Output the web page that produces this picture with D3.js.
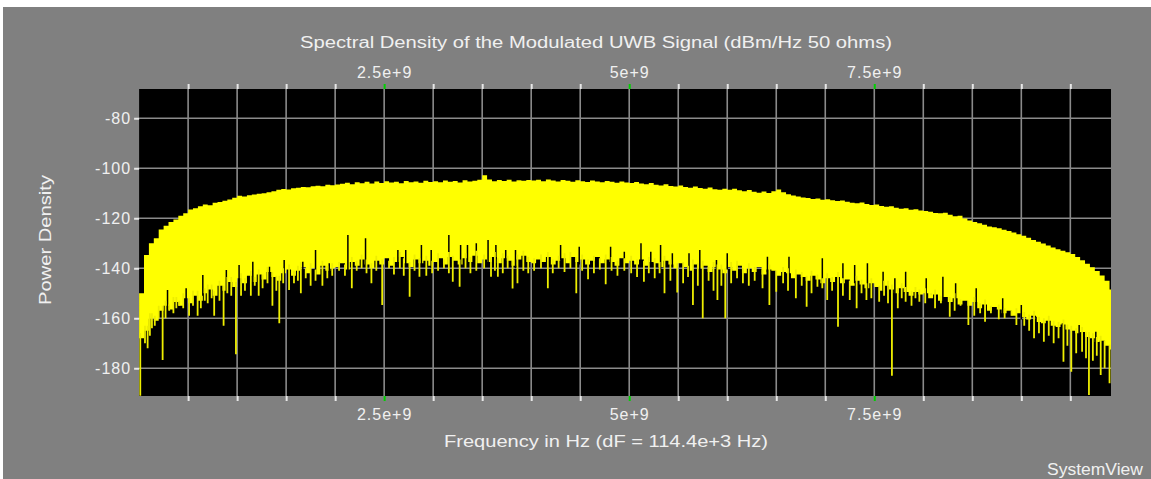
<!DOCTYPE html>
<html>
<head>
<meta charset="utf-8">
<script src="https://cdn.jsdelivr.net/npm/d3@7"></script>
<style>
  html, body { margin: 0; padding: 0; background: #ffffff; }
  svg { display: block; }
  text { font-family: "Liberation Sans", Arial, sans-serif; fill: #f0f0f0; }
</style>
</head>
<body>
<svg id="chart" width="1151" height="479"></svg>
<script>
// ---- data -------------------------------------------------------------
// Spectrum sampled in 0.05 GHz bins starting at 0 Hz (dBm/Hz).
const binHz = 0.05e9;

// upper edge of the spectrum in each bin
const peakDb = [
  -150, -134.7, -130, -128, -124.5, -123, -121.5, -120.5, -119, -118,
  -116.5, -116, -115.2, -114.5, -114.8, -113.8, -113.5, -113, -112.5, -111.8,
  -111, -111.3, -110.8, -110.5, -110.2, -110, -109.6, -109.2, -108.6, -108.3,
  -108.5, -108, -107.8, -107.5, -107.6, -107.2, -107, -107.2, -106.6, -106.8,
  -106.5, -106.2, -105.8, -106.4, -105.6, -106.0, -105.4, -106.1, -105.3, -105.9,
  -105.2, -105.7, -105.4, -106.0, -105.1, -105.6, -105.3, -105.8, -105.0, -105.5,
  -105.2, -105.6, -104.9, -105.4, -105.1, -105.7, -104.8, -105.3, -105.0, -104.6,
  -102.8, -104.5, -105.2, -104.7, -105.1, -104.6, -105.3, -104.8, -105.0, -104.7,
  -104.9, -104.6, -105.2, -104.5, -104.9, -105.3, -104.7, -105.0, -105.4, -104.8,
  -105.2, -105.5, -104.9, -105.3, -105.6, -105.1, -105.4, -105.8, -105.3, -105.7,
  -105.9, -105.5, -106.1, -106.4, -105.9, -106.6, -106.9, -106.4, -107.1, -107.3,
  -106.9, -107.5, -107.8, -107.3, -107.9, -108.2, -107.7, -108.4, -108.6, -108.2,
  -108.6, -108.2, -108.8, -109.2, -108.7, -109.4, -109.8, -109.3, -109.9, -109.2,
  -108.5, -109.6, -110.4, -110.9, -111.3, -111.7, -111.9, -112.3, -112.1, -112.6,
  -112.4, -112.8, -113.1, -112.9, -113.4, -113.8, -114.0, -113.7, -114.3, -114.7,
  -114.5, -115.1, -115.4, -115.2, -115.8, -116.2, -116.0, -116.6, -116.4, -116.9,
  -117.1, -117.4, -117.9, -118.0, -117.8, -118.6, -119.2, -119.0, -120.1, -120.9,
  -121.5, -122.0, -122.6, -123.3, -123.6, -124.0, -124.6, -125.1, -125.7, -126.4,
  -127.0, -127.8, -128.7, -129.4, -130.1, -130.9, -131.7, -132.4, -133.0, -133.6,
  -134.3, -135.5, -136.8, -138.2, -139.6, -141.1, -142.9, -145.0, -148.5
];

// lower edge of the dense part of the spectrum in each bin
const floorDb = [
  -168, -165, -160, -161, -157, -155, -156.5, -153.5, -155, -152,
  -154, -151, -153, -150, -148.5, -151, -147, -149, -145.5, -147.5,
  -144, -146, -143, -145.5, -142.5, -144.5, -141.5, -143.5, -145, -142,
  -140.5, -143, -141, -139.5, -142, -140, -142.5, -139, -141, -140,
  -139.5, -138, -140.5, -137.5, -139, -136.5, -138.5, -140, -137, -138.5,
  -136, -139, -137.5, -135.5, -138, -139.5, -136.5, -138, -137, -139,
  -137.5, -136, -138.5, -135.5, -137, -138.5, -136, -137.5, -135, -138,
  -136.5, -137.5, -135.5, -138, -136, -137, -139, -136.5, -135, -137.5,
  -138, -136.5, -137.5, -135.5, -138.5, -137, -136, -138, -135.5, -137.5,
  -136.5, -138.5, -137, -135.5, -138, -136.5, -137.5, -139, -136, -138,
  -137, -138.5, -136.5, -139, -137.5, -138, -139.5, -137, -138.5, -140,
  -138, -139.5, -141, -138.5, -140, -139, -141.5, -139.5, -140.5, -142,
  -139.5, -141, -139, -142, -140, -141.5, -139.5, -142.5, -140.5, -141,
  -143, -141.5, -142, -144, -142.5, -143.5, -145, -143, -144.5, -146,
  -144, -145.5, -143.5, -146, -144.5, -147, -145, -146.5, -148, -146,
  -147.5, -149, -147, -148.5, -150, -148, -149.5, -151, -149.5, -150.5,
  -150, -152, -150.5, -153, -151.5, -153.5, -152, -154.5, -153, -155,
  -153.5, -156, -154.5, -157, -155.5, -156.5, -158, -157, -159, -158,
  -159.5, -160.5, -159, -161.5, -162, -161, -163, -163.5, -162.5, -164.5,
  -165, -166, -165.5, -167.5, -168, -169.5, -169, -171, -172.5
];

// narrow nulls reaching below the dense band: [frequency GHz, level dBm/Hz]
const dips = [
  [0.012, -191], [0.06, -170], [0.087, -172], [0.11, -167], [0.131, -164], [0.16, -163],
  [0.2, -160], [0.24, -176.7], [0.27, -160], [0.307, -157], [0.35, -158], [0.38, -156],
  [0.41, -155], [0.45, -156], [0.51, -159], [0.55, -155], [0.597, -159], [0.63, -156],
  [0.67, -153], [0.70, -154], [0.74, -152], [0.766, -159], [0.82, -153], [0.862, -163],
  [0.9, -150], [0.94, -151], [0.988, -174.4], [1.04, -151], [1.08, -149], [1.14, -151],
  [1.18, -147], [1.22, -151], [1.26, -148], [1.31, -146], [1.36, -155], [1.4, -149],
  [1.43, -162], [1.47, -146], [1.53, -148.7], [1.58, -146], [1.62, -145], [1.65, -150],
  [1.7, -144], [1.75, -147], [1.8, -145], [1.87, -147], [1.92, -144], [1.97, -143],
  [2.04, -141], [2.1, -143], [2.17, -148], [2.22, -141], [2.27, -140], [2.32, -142],
  [2.37, -146], [2.42, -141], [2.48, -154.7], [2.55, -140], [2.6, -142.5], [2.66, -140],
  [2.7, -143], [2.76, -151.4], [2.81, -141], [2.86, -143.4], [2.93, -143], [2.99, -142],
  [3.05, -141], [3.11, -140], [3.16, -142], [3.2, -145.4], [3.27, -147.4], [3.33, -140],
  [3.38, -142], [3.44, -141], [3.52, -140], [3.59, -143.4], [3.63, -141], [3.66, -143.4],
  [3.71, -142], [3.76, -140], [3.81, -148.1], [3.86, -146], [3.92, -141], [3.97, -142],
  [4.03, -141], [4.1, -140], [4.17, -148], [4.22, -142], [4.28, -140], [4.34, -141.5],
  [4.4, -140], [4.46, -150], [4.52, -141], [4.58, -144.4], [4.64, -142], [4.7, -140.5],
  [4.76, -146.4], [4.82, -141], [4.88, -143], [4.95, -141], [5.02, -142], [5.08, -143.5],
  [5.15, -145.4], [5.2, -142], [5.26, -144], [5.31, -142], [5.36, -150], [5.42, -145],
  [5.49, -149.7], [5.55, -146], [5.6, -143.5], [5.65, -154.7], [5.7, -147], [5.75, -160],
  [5.81, -145], [5.86, -149], [5.9, -152.7], [5.94, -147], [5.98, -160], [6.04, -146],
  [6.1, -144], [6.16, -146], [6.22, -147], [6.28, -145], [6.36, -148], [6.43, -154.7],
  [6.5, -149.4], [6.57, -146], [6.62, -149], [6.7, -152], [6.76, -147], [6.81, -155.4],
  [6.86, -150], [6.92, -147.4], [6.97, -148], [7.02, -152.7], [7.07, -149], [7.13, -163.4],
  [7.18, -151], [7.25, -152.7], [7.32, -156], [7.37, -150], [7.42, -152.7], [7.47, -152],
  [7.55, -153.4], [7.6, -151], [7.64, -154], [7.68, -183], [7.74, -156], [7.78, -152],
  [7.82, -153.4], [7.88, -155], [7.92, -152], [7.96, -153.4], [8.02, -154], [8.08, -150.7],
  [8.12, -156], [8.18, -154], [8.27, -159.4], [8.32, -157], [8.38, -155], [8.46, -162.7],
  [8.52, -159], [8.58, -158], [8.63, -161.4], [8.69, -158], [8.77, -160.4], [8.83, -160],
  [8.9, -159], [8.95, -162.7], [9.03, -163], [9.08, -165], [9.13, -168], [9.18, -166],
  [9.23, -169.4], [9.28, -167], [9.33, -170], [9.38, -168], [9.43, -177.4], [9.47, -171],
  [9.51, -181.4], [9.56, -174], [9.62, -173.4], [9.66, -176], [9.69, -190.7], [9.73, -177],
  [9.77, -175], [9.81, -182.7], [9.85, -180], [9.9, -186]
];

// narrow gaps where the lower edge of the band rises: [frequency GHz, level dBm/Hz]
const notches = [
  [0.29, -148.7], [0.48, -148], [0.65, -142.7], [0.89, -140.7], [1.02, -138.7], [1.16, -137.4],
  [1.33, -139.4], [1.48, -136.7], [1.67, -137.4], [1.80, -132.7], [1.94, -138],
  [2.13, -126.7], [2.31, -128], [2.64, -132.7], [2.72, -132.7], [2.88, -130.7], [2.98, -132.7],
  [3.16, -126.7], [3.28, -130.7], [3.35, -130.7], [3.44, -130], [3.56, -128.7], [3.64, -130.7],
  [3.74, -132.7], [3.84, -132.7], [4.30, -130.7], [4.49, -131.4], [4.81, -131.4], [4.95, -133.4],
  [5.12, -130], [5.22, -133.4], [5.32, -130.7], [5.44, -134], [5.61, -134], [5.72, -132.7],
  [5.89, -136.7], [6.0, -134], [6.41, -135.4], [6.63, -135.4], [6.97, -136], [7.18, -138],
  [7.30, -138.7], [7.43, -138], [7.59, -141.4], [7.71, -144], [7.82, -141.4], [8.03, -144],
  [8.2, -143.4], [8.33, -146], [8.54, -148], [8.81, -152], [9.0, -154.7], [9.15, -159.4],
  [9.42, -162], [9.59, -162.7], [9.76, -165.4]
];

// axes
const freqTicks = [2.5e9, 5e9, 7.5e9];
const freqLabels = ["2.5e+9", "5e+9", "7.5e+9"];
const powerTicks = [-80, -100, -120, -140, -160, -180];

const titleText = "Spectral Density of the Modulated UWB Signal (dBm/Hz 50 ohms)";
const xTitle = "Frequency in Hz (dF = 114.4e+3 Hz)";
const yTitle = "Power Density";
const brand = "SystemView";

// ---- layout -------------------------------------------------------------
const svg = d3.select("#chart");
const plot = { left: 139.1, right: 1111, top: 89, bottom: 396 };
const fontSize = 16;

const x = d3.scaleLinear().domain([0, 9.915e9]).range([plot.left, plot.right]);
const y = d3.scaleLinear().domain([-191.1, -68.3]).range([plot.bottom, plot.top]);

// panel background
svg.append("rect").attr("x", 3).attr("y", 7).attr("width", 1148).attr("height", 472)
  .attr("fill", "#808080");

// plot area
svg.append("rect")
  .attr("x", plot.left).attr("y", plot.top)
  .attr("width", plot.right - plot.left).attr("height", plot.bottom - plot.top)
  .attr("fill", "#000000");

svg.append("defs").append("clipPath").attr("id", "plot-clip")
  .append("rect")
  .attr("x", plot.left).attr("y", plot.top)
  .attr("width", plot.right - plot.left).attr("height", plot.bottom - plot.top);

// grid: every 0.5 GHz and every 20 dB
const gridHz = d3.range(0.5e9, 9.9e9, 0.5e9);
const grid = svg.append("g").attr("stroke", "#8a8a8a").attr("stroke-width", 1.6);
grid.selectAll("line.v").data(gridHz).join("line")
  .attr("x1", d => x(d)).attr("x2", d => x(d))
  .attr("y1", plot.top).attr("y2", plot.bottom);
grid.selectAll("line.h").data(powerTicks).join("line")
  .attr("x1", plot.left).attr("x2", plot.right)
  .attr("y1", d => y(d)).attr("y2", d => y(d));

// spectrum
const bins = peakDb.map((p, i) => ({ f: i * binHz, hi: p, lo: floorDb[i] }));
const last = bins[bins.length - 1];
bins.push({ f: bins.length * binHz, hi: last.hi, lo: last.lo }); // end of final bin

const binAt = g => Math.min(floorDb.length - 1, Math.floor(g * 1e9 / binHz));

const spectrum = svg.append("g").attr("clip-path", "url(#plot-clip)");
spectrum.append("path")
  .datum(bins)
  .attr("fill", "#ffff00")
  .attr("d", d3.area()
    .x(d => x(d.f))
    .y0(d => y(d.lo))
    .y1(d => y(d.hi))
    .curve(d3.curveStepAfter));

spectrum.selectAll("line.notch").data(notches).join("line")
  .attr("class", "notch")
  .attr("x1", d => x(d[0] * 1e9)).attr("x2", d => x(d[0] * 1e9))
  .attr("y1", d => y(floorDb[binAt(d[0])] - 1)).attr("y2", d => y(d[1]))
  .attr("stroke", "#000000").attr("stroke-width", 1.5);

spectrum.selectAll("line.dip").data(dips).join("line")
  .attr("class", "dip")
  .attr("x1", d => x(d[0] * 1e9)).attr("x2", d => x(d[0] * 1e9))
  .attr("y1", d => y(floorDb[binAt(d[0])] + 2)).attr("y2", d => y(d[1]))
  .attr("stroke", "#eeee00").attr("stroke-width", 1.8);

// axes
const labelFor = d => {
  const i = freqTicks.indexOf(d);
  return i >= 0 ? freqLabels[i] : "";
};
const styleFreqAxis = g => {
  g.select(".domain").remove();
  g.selectAll(".tick line")
    .attr("stroke", d => freqTicks.includes(d) ? "#00d000" : "#e8e8e8")
    .attr("stroke-width", 2);
  g.selectAll(".tick text")
    .attr("fill", "#f0f0f0")
    .style("font-size", fontSize + "px")
    .style("letter-spacing", "1px");
};

svg.append("g")
  .attr("transform", `translate(0,${plot.top})`)
  .call(d3.axisTop(x).tickValues(gridHz).tickSize(5).tickPadding(6).tickFormat(labelFor))
  .call(styleFreqAxis);

svg.append("g")
  .attr("transform", `translate(0,${plot.bottom})`)
  .call(d3.axisBottom(x).tickValues(gridHz).tickSize(5).tickPadding(8).tickFormat(labelFor))
  .call(styleFreqAxis);

svg.append("g")
  .attr("transform", `translate(${plot.left},0)`)
  .call(d3.axisLeft(y).tickValues(powerTicks).tickSize(5).tickPadding(3).tickFormat(d => String(d)))
  .call(g => {
    g.select(".domain").remove();
    g.selectAll(".tick line").attr("stroke", "#e8e8e8").attr("stroke-width", 2);
    g.selectAll(".tick text")
      .attr("fill", "#f0f0f0")
      .style("font-size", fontSize + "px")
      .style("letter-spacing", "1px");
  });

// titles
svg.append("text")
  .attr("x", 300).attr("y", 48)
  .attr("textLength", 592).attr("lengthAdjust", "spacingAndGlyphs")
  .style("font-size", fontSize + "px")
  .text(titleText);

svg.append("text")
  .attr("x", 444).attr("y", 447)
  .attr("textLength", 324).attr("lengthAdjust", "spacingAndGlyphs")
  .style("font-size", fontSize + "px")
  .text(xTitle);

svg.append("text")
  .attr("transform", "translate(51,305) rotate(-90)")
  .attr("textLength", 130).attr("lengthAdjust", "spacingAndGlyphs")
  .style("font-size", fontSize + "px")
  .text(yTitle);

svg.append("text")
  .attr("x", 1047).attr("y", 475)
  .attr("textLength", 96).attr("lengthAdjust", "spacingAndGlyphs")
  .style("font-size", fontSize + "px")
  .text(brand);
</script>
</body>
</html>
